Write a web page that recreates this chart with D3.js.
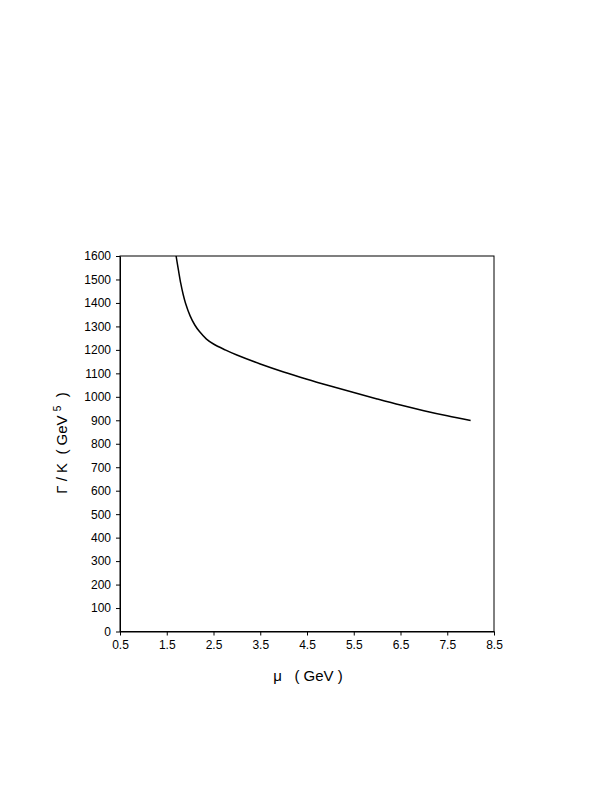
<!DOCTYPE html>
<html><head><meta charset="utf-8">
<script src="https://cdn.jsdelivr.net/npm/d3@7"></script>
<style>body{margin:0;background:#fff}</style>
</head><body>
<svg id="c" width="616" height="800"></svg>
<script>
const muValues = [1.7, 1.75, 1.8, 1.85, 1.9, 2.0, 2.1, 2.2, 2.35, 2.5, 2.75, 3.0, 3.5, 4.0, 4.5, 5.0, 5.5, 6.0, 6.5, 7.0, 7.5, 8.0];
const gammaValues = [1600, 1540, 1483, 1437, 1400, 1345, 1306, 1278, 1246, 1225, 1200, 1178, 1140, 1106, 1075, 1046, 1018, 991, 965, 941, 919, 899];
const xTicks = [0.5, 1.5, 2.5, 3.5, 4.5, 5.5, 6.5, 7.5, 8.5];
const yTicks = [0,100,200,300,400,500,600,700,800,900,1000,1100,1200,1300,1400,1500,1600];

const svg = d3.select("#c");
const L = 120, R = 494, T = 256, B = 631.5;
const x = d3.scaleLinear().domain([0.5, 8.5]).range([L, R]);
const y = d3.scaleLinear().domain([0, 1600]).range([B, T]);
const font = "'Liberation Sans', Arial, sans-serif";

svg.append("rect").attr("x", L).attr("y", T).attr("width", R - L).attr("height", B - T)
  .attr("fill", "none").attr("stroke", "#000").attr("stroke-width", 1);

const gx = svg.append("g").attr("transform", `translate(0,${B})`)
  .call(d3.axisBottom(x).tickValues(xTicks).tickFormat(d3.format(".1f")).tickSizeOuter(0).tickSizeInner(4).tickPadding(5));
const gy = svg.append("g").attr("transform", `translate(${L},0)`)
  .call(d3.axisLeft(y).tickValues(yTicks).tickFormat(d3.format("d")).tickSizeOuter(0).tickSizeInner(4).tickPadding(5));
[gx, gy].forEach(g => {
  g.select(".domain").attr("stroke", "#000");
  g.selectAll("line").attr("stroke", "#000");
  g.selectAll("text").attr("font-family", font).attr("font-size", 12).attr("fill", "#000");
});

const data = muValues.map((m, i) => [m, gammaValues[i]]);
svg.append("path").datum(data)
  .attr("fill", "none").attr("stroke", "#000").attr("stroke-width", 1.5)
  .attr("d", d3.line().x(d => x(d[0])).y(d => y(d[1])).curve(d3.curveCatmullRom.alpha(0.5)));

svg.append("text").attr("x", 308).attr("y", 681).attr("text-anchor", "middle")
  .attr("font-family", font).attr("font-size", 15).attr("fill", "#000")
  .attr("xml:space", "preserve").text("μ   ( GeV )");

const yl = svg.append("text").attr("transform", "translate(67,443) rotate(-90)")
  .attr("text-anchor", "middle").attr("font-family", font).attr("font-size", 15).attr("fill", "#000")
  .attr("xml:space", "preserve");
yl.append("tspan").text("Γ / K  ( GeV ");
yl.append("tspan").attr("font-size", 10).attr("dy", -6).text("5");
yl.append("tspan").attr("dy", 6).text("  )");
</script>
</body></html>
